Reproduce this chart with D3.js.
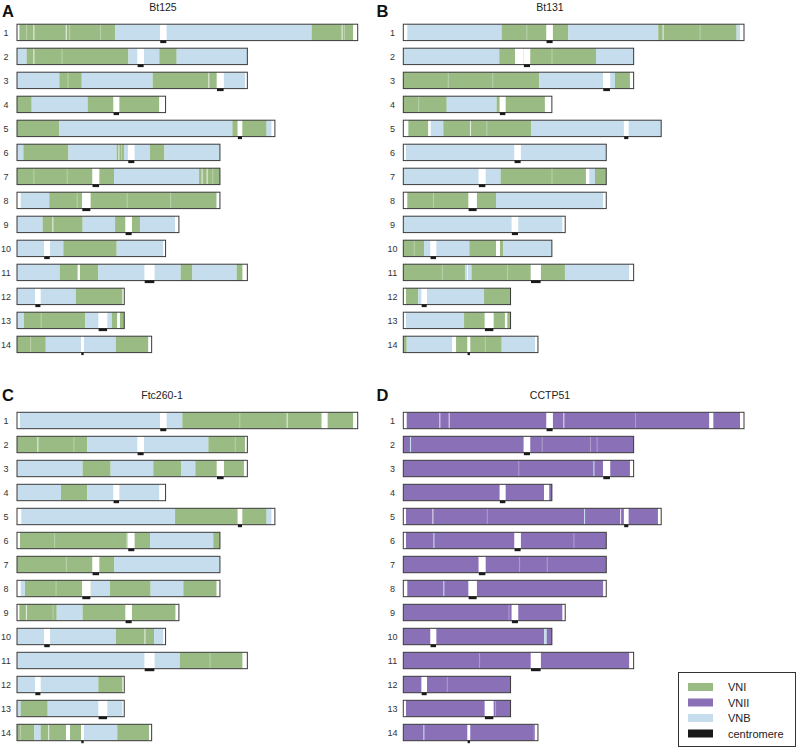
<!DOCTYPE html>
<html><head><meta charset="utf-8">
<script src="https://cdn.jsdelivr.net/npm/d3@7"></script>
<style>body{margin:0;background:#fff} svg{display:block} text{font-family:"Liberation Sans",Arial,Helvetica,sans-serif}</style>
</head><body><svg id="chart" width="797" height="749"></svg>
<script>
const chromosomes = [1,2,3,4,5,6,7,8,9,10,11,12,13,14];
const chromLengthsKb = [2300,1555,1555,1003,1741,1370,1370,1370,1093,1003,1555,724,724,909];
const centromeresKb = [[965,1010],[812,857],[1348,1397],[650,691],[1489,1521],[749,794],[508,556],[439,497],[731,776],[182,223],[860,929],[122,160],[549,610],[432,452]];
const panelNames = ["Bt125","Bt131","Ftc260-1","CCTP51"];
const panelLetters = ["A","B","C","D"];
const legendLabels = ["VNI","VNII","VNB","centromere"];
const legendTypes = ["I","II","B","cen"];

// segments: [chromosome, startKb, endKb, lineage]
const bt125Segments = [
 [1,0,16,"W"],[1,16,662,"I"],[1,662,1989,"B"],[1,1989,2270,"I"],[1,2270,2300,"W"],
 [2,0,65,"B"],[2,65,752,"I"],[2,752,961,"B"],[2,961,1078,"I"],[2,1078,1555,"B"],
 [3,0,286,"B"],[3,286,437,"I"],[3,437,916,"B"],[3,916,1397,"I"],[3,1397,1539,"B"],[3,1539,1555,"W"],
 [4,0,99,"I"],[4,99,477,"B"],[4,477,961,"I"],[4,961,1003,"W"],
 [5,0,286,"I"],[5,286,1454,"B"],[5,1454,1685,"I"],[5,1685,1719,"B"],[5,1719,1741,"W"],
 [6,0,43,"B"],[6,43,347,"I"],[6,347,673,"B"],[6,673,722,"I"],[6,722,898,"B"],[6,898,995,"I"],[6,995,1370,"B"],
 [7,0,655,"I"],[7,655,1229,"B"],[7,1229,1370,"I"],
 [8,0,25,"W"],[8,25,218,"B"],[8,218,1348,"I"],[8,1348,1370,"W"],
 [9,0,173,"B"],[9,173,443,"I"],[9,443,662,"B"],[9,662,830,"I"],[9,830,1067,"B"],[9,1067,1093,"W"],
 [10,0,313,"B"],[10,313,673,"I"],[10,673,988,"B"],[10,988,1003,"W"],
 [11,0,290,"B"],[11,290,410,"I"],[11,410,425,"W"],[11,425,549,"I"],[11,549,1105,"B"],[11,1105,1184,"I"],[11,1184,1483,"B"],[11,1483,1523,"I"],[11,1523,1555,"W"],
 [12,0,398,"B"],[12,398,713,"I"],[12,713,724,"W"],
 [13,0,47,"B"],[13,47,461,"I"],[13,461,641,"B"],[13,641,677,"I"],[13,677,695,"W"],[13,695,724,"I"],
 [14,0,194,"I"],[14,194,668,"B"],[14,668,887,"I"],[14,887,909,"W"]
];
const bt131Segments = [
 [1,0,27,"W"],[1,27,664,"B"],[1,664,1114,"I"],[1,1114,1721,"B"],[1,1721,2250,"I"],[1,2250,2273,"B"],[1,2273,2300,"W"],
 [2,0,648,"B"],[2,648,754,"I"],[2,754,812,"W"],[2,812,1301,"I"],[2,1301,1555,"B"],
 [3,0,918,"I"],[3,918,1429,"B"],[3,1429,1530,"I"],[3,1530,1555,"W"],
 [4,0,293,"I"],[4,293,630,"B"],[4,630,956,"I"],[4,956,1003,"W"],
 [5,0,34,"W"],[5,34,169,"I"],[5,169,185,"W"],[5,185,270,"B"],[5,270,862,"I"],[5,862,1741,"B"],
 [6,0,18,"W"],[6,18,1370,"B"],
 [7,0,657,"B"],[7,657,1233,"I"],[7,1233,1256,"W"],[7,1256,1294,"B"],[7,1294,1370,"I"],
 [8,0,27,"W"],[8,27,626,"I"],[8,626,1350,"B"],[8,1350,1370,"W"],
 [9,0,1075,"B"],[9,1075,1093,"W"],
 [10,0,140,"I"],[10,140,446,"B"],[10,446,626,"I"],[10,626,653,"W"],[10,653,675,"I"],[10,675,1003,"B"],
 [11,0,416,"I"],[11,416,461,"B"],[11,461,1091,"I"],[11,1091,1526,"B"],[11,1526,1555,"W"],
 [12,0,18,"W"],[12,18,101,"I"],[12,101,545,"B"],[12,545,724,"I"],
 [13,0,18,"W"],[13,18,410,"B"],[13,410,686,"I"],[13,686,702,"W"],[13,702,724,"I"],
 [14,0,23,"I"],[14,23,331,"B"],[14,331,356,"W"],[14,356,664,"I"],[14,664,889,"B"],[14,889,909,"W"]
];
const ftc260Segments = [
 [1,0,20,"W"],[1,20,1116,"B"],[1,1116,2057,"I"],[1,2057,2097,"W"],[1,2097,2270,"I"],[1,2270,2300,"W"],
 [2,0,475,"I"],[2,475,1292,"B"],[2,1292,1539,"I"],[2,1539,1555,"W"],
 [3,0,443,"B"],[3,443,632,"I"],[3,632,920,"B"],[3,920,1107,"I"],[3,1107,1204,"B"],[3,1204,1532,"I"],[3,1532,1555,"W"],
 [4,0,297,"B"],[4,297,475,"I"],[4,475,961,"B"],[4,961,1003,"W"],
 [5,0,29,"W"],[5,29,1067,"B"],[5,1067,1685,"I"],[5,1685,1719,"B"],[5,1719,1741,"W"],
 [6,0,20,"W"],[6,20,898,"I"],[6,898,1325,"B"],[6,1325,1370,"I"],
 [7,0,657,"I"],[7,657,1370,"B"],
 [8,0,25,"W"],[8,25,54,"B"],[8,54,497,"I"],[8,497,628,"B"],[8,628,902,"I"],[8,902,1123,"B"],[8,1123,1348,"I"],[8,1348,1370,"W"],
 [9,0,16,"W"],[9,16,268,"I"],[9,268,443,"B"],[9,443,1071,"I"],[9,1071,1093,"W"],
 [10,0,668,"B"],[10,668,925,"I"],[10,925,988,"B"],[10,988,1003,"W"],
 [11,0,1100,"B"],[11,1100,1523,"I"],[11,1523,1555,"W"],
 [12,0,549,"B"],[12,549,713,"I"],[12,713,724,"W"],
 [13,0,25,"B"],[13,25,207,"I"],[13,207,713,"B"],[13,713,724,"W"],
 [14,0,117,"I"],[14,117,160,"B"],[14,160,331,"I"],[14,331,358,"W"],[14,358,452,"I"],[14,452,677,"B"],[14,677,891,"I"],[14,891,909,"W"]
];
const cctp51Segments = [
 [1,0,23,"W"],[1,23,2066,"II"],[1,2066,2093,"W"],[1,2093,2273,"II"],[1,2273,2300,"W"],
 [2,0,1555,"II"],
 [3,0,1530,"II"],[3,1530,1555,"W"],
 [4,0,950,"II"],[4,950,985,"W"],[4,985,1003,"II"],
 [5,0,18,"W"],[5,18,1719,"II"],[5,1719,1741,"W"],
 [6,0,18,"W"],[6,18,1370,"II"],
 [7,0,1370,"II"],
 [8,0,27,"W"],[8,27,1350,"II"],[8,1350,1370,"W"],
 [9,0,1075,"II"],[9,1075,1093,"W"],
 [10,0,950,"II"],[10,950,968,"B"],[10,968,1003,"II"],
 [11,0,1526,"II"],[11,1526,1555,"W"],
 [12,0,724,"II"],
 [13,0,18,"W"],[13,18,724,"II"],
 [14,0,889,"II"],[14,889,909,"W"]
];
// thin light streaks: [chromosome, positionKb, kind]
const bt125Streaks = [[1,61,"L"],[1,110,"W"],[1,329,"W"],[1,351,"L"],[1,560,"L"],[1,2191,"W"],[1,2207,"L"],[2,110,"W"],[2,300,"L"],[3,1291,"W"],[3,340,"L"],[6,684,"W"],[6,702,"L"],[7,110,"L"],[7,335,"L"],[7,1246,"W"],[7,1280,"W"],[7,1318,"L"],[8,403,"L"],[8,740,"L"],[8,1033,"L"],[9,238,"W"],[13,160,"L"],[14,88,"L"]];
const bt131Streaks = [[1,830,"L"],[1,1750,"W"],[1,2000,"L"],[2,1000,"L"],[3,300,"L"],[3,600,"L"],[4,100,"L"],[5,450,"W"],[5,560,"L"],[7,1000,"L"],[8,200,"L"],[10,70,"L"],[11,260,"L"],[11,430,"W"],[11,700,"L"],[14,550,"L"]];
const ftc260Streaks = [[1,1820,"W"],[1,1500,"L"],[2,137,"W"],[2,380,"L"],[2,1470,"L"],[6,740,"W"],[6,760,"L"],[6,250,"L"],[7,330,"L"],[8,260,"L"],[9,240,"L"],[9,60,"W"],[10,860,"W"],[11,1300,"L"],[14,20,"L"],[14,210,"W"]];
const cctp51Streaks = [[1,243,"W"],[1,306,"W"],[1,1080,"W"],[1,1564,"L"],[2,45,"B"],[2,934,"L"],[2,1260,"L"],[2,1305,"L"],[3,776,"L"],[3,1283,"B"],[5,196,"W"],[5,563,"L"],[5,1220,"B"],[5,1463,"W"],[6,203,"B"],[6,1148,"L"],[7,781,"L"],[7,968,"L"],[8,270,"B"],[9,709,"L"],[11,511,"L"],[12,293,"L"],[13,619,"L"],[14,135,"B"],[14,880,"L"]];

const panelSegments = [bt125Segments, bt131Segments, ftc260Segments, cctp51Segments];
const panelStreaks = [bt125Streaks, bt131Streaks, ftc260Streaks, cctp51Streaks];

const colors = {I:"#9bbb84", II:"#8a70b6", B:"#c5ddec", W:"#ffffff", cen:"#1a1a1a"};
const streakColors = {W:"rgba(255,255,255,0.75)", L:"rgba(255,255,255,0.3)", B:"#c5ddec"};

const panelOrigins = [[17,24.2],[403.3,24.2],[17,412.3],[403.3,412.3]];
const letterPos = [[2,16.5],[376.5,16.5],[2,400.5],[376.5,400.5]];
const titleX = [163,550,162,550];
const titleY = [10.8,10.8,399.3,399.3];
const labelX = [6,392.5,6,392.5];

const svg = d3.select("#chart");
const barH = 16.4, rowStep = 24;

panelNames.forEach((name, p) => {
  const [x0, y0] = panelOrigins[p];
  const x = d3.scaleLinear().domain([0, 2300]).range([x0, x0 + 340.7]);
  const y = d3.scaleLinear().domain([1, 14]).range([y0, y0 + 13*rowStep]);
  const g = svg.append("g");

  g.append("text").attr("x", letterPos[p][0]).attr("y", letterPos[p][1])
    .attr("font-size", 16.5).attr("font-weight", "bold").attr("fill", "#111").text(panelLetters[p]);
  g.append("text").attr("x", titleX[p]).attr("y", titleY[p]).attr("text-anchor", "middle")
    .attr("font-size", 10.5).attr("fill", "#222").text(name);

  g.selectAll("text.lab").data(chromosomes).join("text").attr("class","lab")
    .attr("x", labelX[p]).attr("y", c => y(c) + barH/2 + 3.2).attr("text-anchor","middle")
    .attr("font-size", 9).attr("fill", "#333").text(c => c);

  g.selectAll("rect.seg").data(panelSegments[p]).join("rect").attr("class","seg")
    .attr("x", d => x(d[1])).attr("width", d => x(d[2]) - x(d[1]) + 0.05)
    .attr("y", d => y(d[0])).attr("height", barH).attr("fill", d => colors[d[3]]);

  g.selectAll("rect.streak").data(panelStreaks[p]).join("rect").attr("class","streak")
    .attr("x", d => x(d[1])).attr("width", 1.1)
    .attr("y", d => y(d[0])).attr("height", barH).attr("fill", d => streakColors[d[2]]);

  g.selectAll("rect.cgap").data(chromosomes).join("rect").attr("class","cgap")
    .attr("x", c => x(centromeresKb[c-1][0])).attr("width", c => x(centromeresKb[c-1][1]) - x(centromeresKb[c-1][0]))
    .attr("y", c => y(c)).attr("height", barH).attr("fill", "#fff");

  g.selectAll("rect.outline").data(chromosomes).join("rect").attr("class","outline")
    .attr("x", c => x(0)).attr("width", c => x(chromLengthsKb[c-1]) - x(0))
    .attr("y", c => y(c)).attr("height", barH)
    .attr("fill", "none").attr("stroke", "#3a3a3a").attr("stroke-width", 1);

  g.selectAll("rect.cen").data(chromosomes).join("rect").attr("class","cen")
    .attr("x", c => x(centromeresKb[c-1][0]) + 0.3).attr("width", c => x(centromeresKb[c-1][1]) - x(centromeresKb[c-1][0]) - 0.6)
    .attr("y", c => y(c) + barH - 0.3).attr("height", 2.8).attr("fill", colors.cen);
});

// legend
const lg = svg.append("g");
lg.append("rect").attr("x", 678.5).attr("y", 672.5).attr("width", 117).attr("height", 74)
  .attr("fill", "#fff").attr("stroke", "#333").attr("stroke-width", 1);
const ly = d3.scaleLinear().domain([0, 3]).range([687, 733.5]);
lg.selectAll("rect.sw").data(legendTypes).join("rect").attr("class","sw")
  .attr("x", 688).attr("y", (d,i) => ly(i) - 4).attr("width", 25).attr("height", 8)
  .attr("fill", d => colors[d]);
lg.selectAll("text.lt").data(legendLabels).join("text").attr("class","lt")
  .attr("x", 728).attr("y", (d,i) => ly(i) + 4).attr("font-size", 11).attr("fill", "#222").text(d => d);
</script></body></html>
